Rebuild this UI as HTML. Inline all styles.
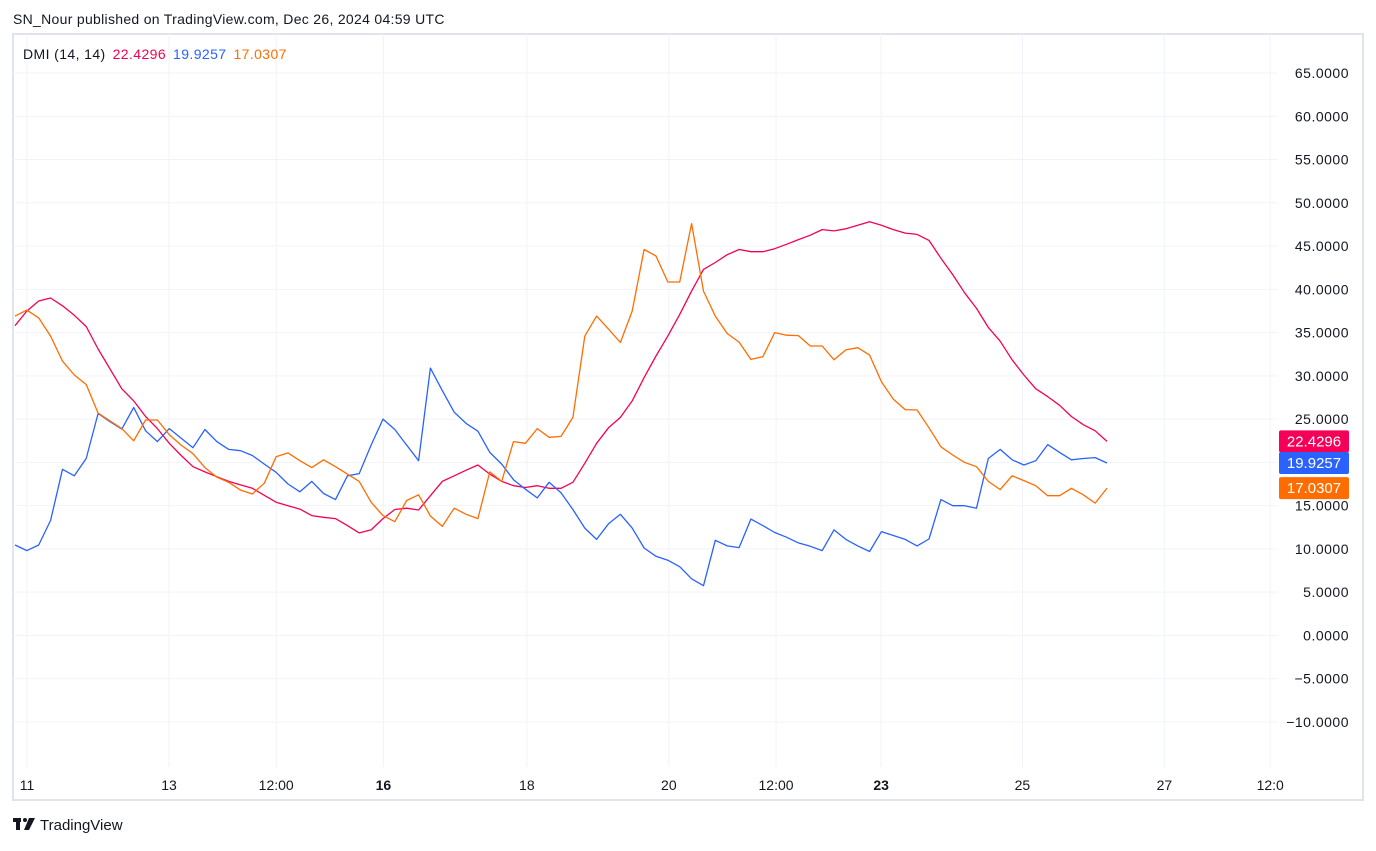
<!DOCTYPE html>
<html><head><meta charset="utf-8"><style>
body{margin:0;background:#fff;width:1376px;height:846px;overflow:hidden;font-family:"Liberation Sans",sans-serif;}
svg text{font-family:"Liberation Sans",sans-serif;}
</style></head><body>
<svg id="chart" width="1376" height="846" viewBox="0 0 1376 846" xmlns="http://www.w3.org/2000/svg">
<text x="13" y="24" font-size="14" fill="#131722" letter-spacing="0.3">SN_Nour published on TradingView.com, Dec 26, 2024 04:59 UTC</text>
<rect x="13" y="34" width="1350" height="766" fill="#fff" stroke="#e0e3eb" stroke-width="2"/>
<g id="grid"></g>
<g id="yticks"></g>
<g id="xticks"></g>
<clipPath id="pc"><rect x="13" y="34" width="1262" height="733"/></clipPath>
<g id="series" clip-path="url(#pc)"></g>
<g id="badges"></g>
<text x="23" y="59" font-size="14" fill="#131722" letter-spacing="0.4">DMI (14, 14)<tspan fill="#f50057" dx="7">22.4296</tspan><tspan fill="#2962ff" dx="7">19.9257</tspan><tspan fill="#ff6d00" dx="7">17.0307</tspan></text>
<g>
<rect x="13" y="818" width="8" height="4" fill="#131722"/><rect x="16" y="818" width="4" height="12" fill="#131722"/>
<circle cx="25" cy="820" r="2" fill="#131722"/><polygon points="29,818 35,818 29,830 24,830" fill="#131722"/>
<text x="40" y="830" font-size="15" fill="#131722">TradingView</text>
</g>
</svg>
<script>
const yTicks=[65,60,55,50,45,40,35,30,25,20,15,10,5,0,-5,-10];
const xLabels=["11","13","12:00","16","18","20","12:00","23","25","27","12:0"];
const xLabelPos=[0.9,2.9,4.41,5.92,7.94,9.94,11.45,12.93,14.92,16.92,18.41];
const xBold=[false,false,false,true,false,false,false,true,false,false,false];
const adx=[35.8,37.5,38.65,39.0,38.1,37.0,35.7,33.1,30.8,28.5,27.1,25.3,23.9,22.2,20.8,19.5,18.9,18.35,17.8,17.4,17.0,16.2,15.4,15.0,14.6,13.85,13.65,13.5,12.7,11.85,12.2,13.5,14.55,14.7,14.5,16.15,17.8,18.45,19.1,19.7,18.65,17.8,17.3,17.1,17.3,17.0,17.0,17.7,19.9,22.2,24.0,25.2,27.1,29.8,32.3,34.6,37.1,39.8,42.3,43.1,44.0,44.6,44.35,44.35,44.7,45.2,45.75,46.25,46.9,46.75,47.0,47.4,47.8,47.4,46.9,46.5,46.35,45.65,43.6,41.7,39.6,37.8,35.6,34.0,31.85,30.1,28.5,27.6,26.6,25.3,24.35,23.65,22.4296];
const plusDI=[10.45,9.8,10.45,13.3,19.2,18.45,20.45,25.65,24.7,23.85,26.35,23.65,22.4,23.9,22.8,21.7,23.8,22.4,21.5,21.35,20.8,19.8,18.85,17.5,16.6,17.8,16.4,15.7,18.45,18.7,22.0,25.0,23.8,22.0,20.2,30.9,28.3,25.8,24.5,23.6,21.15,19.8,18.0,16.9,15.9,17.7,16.5,14.55,12.4,11.1,12.9,14.0,12.4,10.1,9.15,8.7,7.95,6.55,5.75,11.0,10.35,10.15,13.45,12.7,11.9,11.35,10.7,10.3,9.8,12.2,11.1,10.35,9.7,12.0,11.55,11.1,10.35,11.15,15.7,15.0,15.0,14.7,20.45,21.5,20.3,19.7,20.2,22.05,21.15,20.3,20.45,20.55,19.9257];
const minusDI=[36.9,37.6,36.7,34.6,31.7,30.1,29.0,25.7,24.8,23.9,22.5,24.9,24.9,23.2,22.0,21.0,19.4,18.3,17.7,16.8,16.35,17.6,20.65,21.1,20.2,19.4,20.3,19.5,18.65,17.8,15.4,13.85,13.15,15.6,16.25,13.8,12.6,14.7,14.0,13.5,18.9,17.8,22.4,22.2,23.9,22.9,23.0,25.2,34.6,36.9,35.4,33.85,37.5,44.6,43.85,40.85,40.85,47.6,39.8,36.9,34.9,33.9,31.9,32.2,35.0,34.7,34.65,33.45,33.45,31.85,33.0,33.25,32.4,29.3,27.3,26.1,26.05,24.0,21.8,20.85,20.0,19.5,17.8,16.85,18.45,17.9,17.3,16.15,16.15,17.0,16.25,15.3,17.0307];
const NS="http://www.w3.org/2000/svg";
const yS=v=>73+(65-v)*8.653;
const xS=i=>15+i*11.87;
const xD=d=>27+(d-0.9)*71;
function mk(tag,attrs,parent){const e=document.createElementNS(NS,tag);for(const k in attrs)e.setAttribute(k,attrs[k]);parent.appendChild(e);return e;}
const grid=document.getElementById('grid'),yt=document.getElementById('yticks'),xt=document.getElementById('xticks'),ser=document.getElementById('series'),bd=document.getElementById('badges');
yTicks.forEach(v=>{
  const l=mk('line',{x1:13,x2:1278,y1:yS(v),y2:yS(v),stroke:'#f0f3fa','stroke-width':1},grid);
  
  
  const t=mk('text',{x:1349,y:yS(v)+5,'font-size':14,fill:'#131722','text-anchor':'end','letter-spacing':0.5},yt);
  t.textContent=v<0?'\u2212'+Math.abs(v).toFixed(4):v.toFixed(4);
  
  
});
xLabels.forEach((s,i)=>{
  const x=xD(xLabelPos[i]);
  const l=mk('line',{x1:x,x2:x,y1:34,y2:767,stroke:'#f0f3fa','stroke-width':1},grid);
  
  
  const t=mk('text',{x:x,y:790,'font-size':14,fill:'#131722','text-anchor':'middle','font-weight':xBold[i]?'bold':'normal'},xt);
  t.textContent=s;
  
  
});
[[adx,'#f50057','adx-line'],[plusDI,'#2962ff','plus-di-line'],[minusDI,'#ff6d00','minus-di-line']].forEach(([arr,c,n])=>{
  const p=mk('polyline',{points:arr.map((v,i)=>xS(i).toFixed(1)+','+yS(v).toFixed(1)).join(' '),fill:'none',stroke:c,'stroke-width':1.3,'stroke-linejoin':'round'},ser);
  
  
});
[[adx,'#f50057','adx-badge'],[plusDI,'#2962ff','plus-di-badge'],[minusDI,'#ff6d00','minus-di-badge']].forEach(([arr,c,n])=>{
  const v=arr[arr.length-1],y=yS(v);
  const g=mk('g',{},bd);
  
  
  mk('rect',{x:1279,y:y-11,width:70,height:22,rx:2,fill:c},g);
  const t=mk('text',{x:1314,y:y+5,'font-size':15,fill:'#fff','text-anchor':'middle'},g);
  t.textContent=v.toFixed(4);
});
</script>
</body></html>
